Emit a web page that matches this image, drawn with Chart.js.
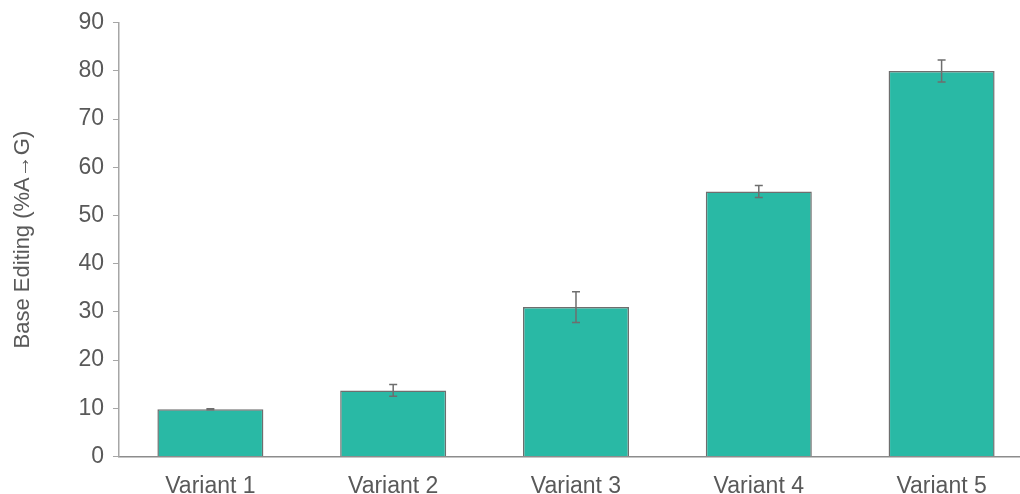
<!DOCTYPE html>
<html>
<head>
<meta charset="utf-8">
<script src="https://cdn.jsdelivr.net/npm/chart.js@4.4.0/dist/chart.umd.min.js"></script>
<style>
  html, body { margin: 0; padding: 0; background: #fff; overflow: hidden; }
  #wrap { width: 1036px; height: 516px; position: relative; }
</style>
</head>
<body>
<div id="wrap"><canvas id="chart"></canvas></div>
<script>
const categories = ['Variant 1', 'Variant 2', 'Variant 3', 'Variant 4', 'Variant 5'];
const editing = [9.8, 13.7, 31.0, 55.0, 80.0];
const errors = [0.1, 1.2, 3.2, 1.25, 2.3];
const yTicks = [0, 10, 20, 30, 40, 50, 60, 70, 80, 90];

const axisGray = '#a6a6a6';
const textGray = '#595959';
const fontFamily = 'Liberation Sans, Arial, sans-serif';

// draw the +/- error whiskers on top of each bar
const errorBars = {
  id: 'errorBars',
  afterDatasetsDraw(chart) {
    const ctx = chart.ctx;
    const y = chart.scales.y;
    const meta = chart.getDatasetMeta(0);
    ctx.save();
    ctx.strokeStyle = '#6e6e6e';
    ctx.lineWidth = 1.5;
    meta.data.forEach((bar, i) => {
      const v = editing[i], e = errors[i];
      const top = y.getPixelForValue(v + e);
      const bot = y.getPixelForValue(v - e);
      const x = bar.x;
      ctx.beginPath();
      ctx.moveTo(x, top); ctx.lineTo(x, bot);
      ctx.moveTo(x - 4, top); ctx.lineTo(x + 4, top);
      ctx.moveTo(x - 4, bot); ctx.lineTo(x + 4, bot);
      ctx.stroke();
    });
    ctx.restore();
  }
};

new Chart(document.getElementById('chart'), {
  type: 'bar',
  data: {
    labels: categories,
    datasets: [{
      label: 'Base Editing',
      data: editing,
      backgroundColor: '#29b9a5',
      borderColor: '#6e6e6e',
      borderWidth: 1.5,
      barPercentage: 0.58,
      categoryPercentage: 1
    }]
  },
  options: {
    responsive: true,
    maintainAspectRatio: false,
    animation: false,
    layout: { padding: { top: 14, right: 3, left: 6, bottom: 0 } },
    plugins: {
      legend: { display: false },
      tooltip: { enabled: false }
    },
    scales: {
      x: {
        grid: { display: false, drawTicks: false },
        border: { color: '#8c8c8c', width: 1.5 },
        ticks: {
          color: textGray,
          padding: 16,
          font: { family: fontFamily, size: 23 }
        }
      },
      y: {
        min: 0,
        max: 90,
        afterBuildTicks(axis) { axis.ticks = yTicks.map(v => ({ value: v })); },
        grid: { drawOnChartArea: false, tickLength: 6, color: axisGray },
        border: { color: axisGray, width: 1.5 },
        ticks: {
          color: textGray,
          padding: 9,
          font: { family: fontFamily, size: 23 }
        },
        title: {
          display: true,
          text: 'Base Editing (%A\u2192G)',
          color: textGray,
          padding: { bottom: 33 },
          font: { family: fontFamily, size: 22 }
        }
      }
    }
  },
  plugins: [errorBars]
});
</script>
</body>
</html>
